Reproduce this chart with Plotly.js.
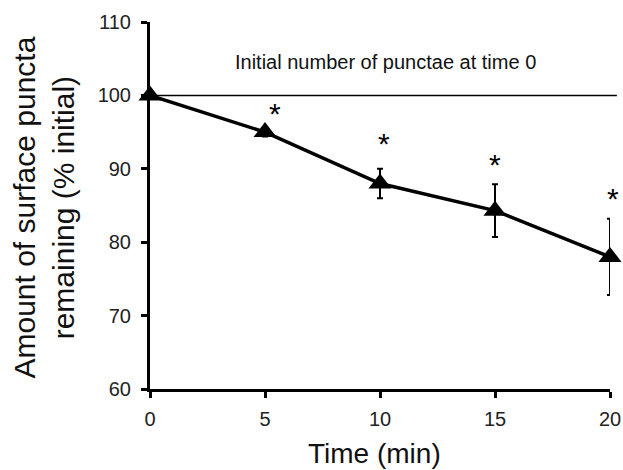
<!DOCTYPE html>
<html><head><meta charset="utf-8">
<script src="https://cdn.plot.ly/plotly-3.0.1.min.js"></script>
<style>body{margin:0;padding:0;background:#fff}</style>
</head><body>
<div id="chart" style="width:623px;height:470px"></div>
<script>
const timeMin = [0, 5, 10, 15, 20];
const remaining = [100, 95.0, 88.0, 84.3, 78.0];
const errorSD = [0, 0.6, 2.0, 3.6, 5.2];
const starX = [5, 10, 15, 20];
const starY = [97.6, 93.4, 90.6, 86.0];
const baselineValue = 100;
const baselineLabel = "Initial number of punctae at time 0";
const xTicks = [0, 5, 10, 15, 20];
const yTicks = [60, 70, 80, 90, 100, 110];
const starShiftPx = [10, 4, 0, 3];

const font = "Liberation Sans, Arial, sans-serif";

const trace = {
  x: timeMin, y: remaining, type: "scatter", mode: "lines+markers",
  line: {color: "#000", width: 3.5},
  marker: {symbol: "triangle-up", size: 20, color: "#000"},
  error_y: {type: "data", array: errorSD, visible: true, color: "#000", thickness: 2, width: 3},
  cliponaxis: false, showlegend: false, hoverinfo: "skip"
};

const annotations = starX.map((x, i) => ({
  x: x, y: starY[i], xref: "x", yref: "y", text: "*", showarrow: false, xshift: starShiftPx[i],
  font: {family: font, size: 30, color: "#000"}, xanchor: "center", yanchor: "middle"
}));
annotations.push({
  x: 10.26, y: 104.6, xref: "x", yref: "y", text: baselineLabel, showarrow: false,
  font: {family: font, size: 20, color: "#111"}, xanchor: "center", yanchor: "middle"
});
annotations.push({
  x: -0.23, y: 0.495, xref: "paper", yref: "paper", textangle: -90,
  text: "Amount of surface puncta<br>remaining (% initial)", showarrow: false,
  font: {family: font, size: 30, color: "#111"}, xanchor: "center", yanchor: "middle"
});
annotations.push({
  x: 0.489, y: -0.175, xref: "paper", yref: "paper",
  text: "Time (min)", showarrow: false,
  font: {family: font, size: 28, color: "#111"}, xanchor: "center", yanchor: "middle"
});

const layout = {
  width: 623, height: 470,
  margin: {l: 150, r: 13, t: 22, b: 81},
  paper_bgcolor: "#fff", plot_bgcolor: "#fff",
  font: {family: font, color: "#222"},
  xaxis: {
    range: [0, 20], tickvals: xTicks, ticktext: xTicks.map(String),
    showgrid: false, zeroline: false, showline: true, linecolor: "#000", linewidth: 3,
    ticks: "outside", ticklen: 6, tickwidth: 3, tickcolor: "#000", ticklabelstandoff: 4,
    tickfont: {family: font, size: 20, color: "#222"}
  },
  yaxis: {
    range: [60, 110], tickvals: yTicks, ticktext: yTicks.map(String),
    showgrid: false, zeroline: false, showline: true, linecolor: "#000", linewidth: 3,
    ticks: "outside", ticklen: 6, tickwidth: 3, tickcolor: "#000", ticklabelstandoff: 6,
    tickfont: {family: font, size: 20, color: "#222"}
  },
  shapes: [{
    type: "line", xref: "paper", yref: "y", x0: 0, x1: 1.015, y0: baselineValue, y1: baselineValue,
    line: {color: "#000", width: 1.5}
  }],
  annotations: annotations
};

Plotly.newPlot("chart", [trace], layout, {displayModeBar: false, staticPlot: true});
</script>
</body></html>
